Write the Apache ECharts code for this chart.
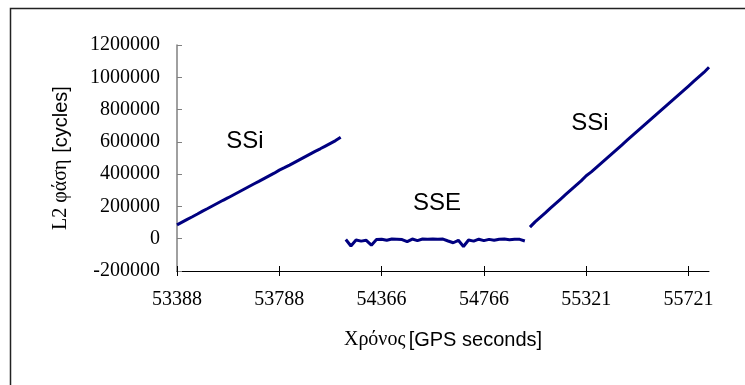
<!DOCTYPE html>
<html lang="el">
<head>
    <meta charset="UTF-8">
    <script src="https://cdn.jsdelivr.net/npm/echarts@6/dist/echarts.min.js"></script>
    <title>L2 φάση</title>
</head>
<body style="margin:0;background:#fff">
<div id="chart" style="width:745px;height:385px"></div>
<script type="text/javascript">
    // χρόνοι GPS (κάθε 20 s) για τα τρία τμήματα
    var times1 = [53388, 53408, 53428, 53448, 53468, 53488, 53508, 53528, 53548, 53568,
        53588, 53608, 53628, 53648, 53668, 53688, 53708, 53728, 53748, 53768,
        53788, 53808, 53828, 53848, 53868, 53888, 53908, 53928, 53948, 53968,
        53988, 54008, 54028];
    var times2 = [54226, 54246, 54266, 54286, 54306, 54326, 54346, 54366, 54386, 54406,
        54426, 54446, 54466, 54486, 54506, 54526, 54546, 54566, 54586, 54606,
        54626, 54646, 54666, 54686, 54706, 54726, 54746, 54766, 54786, 54806,
        54826, 54846, 54866, 54886, 54906, 54926];
    var times3 = [55101, 55121, 55141, 55161, 55181, 55201, 55221, 55241, 55261, 55281,
        55301, 55321, 55341, 55361, 55381, 55401, 55421, 55441, 55461, 55481,
        55501, 55521, 55541, 55561, 55581, 55601, 55621, 55641, 55661, 55681,
        55701, 55721, 55741, 55761, 55781, 55801];

    // L2 φάση [cycles]
    var ssi1 = [86000, 103000, 120000, 136000, 153000, 171000, 187000, 204000, 221000, 238000,
        254000, 271000, 288000, 305000, 322000, 339000, 355000, 372000, 389000, 406000,
        425000, 440000, 456000, 473000, 490000, 507000, 524000, 541000, 557000, 574000,
        591000, 608000, 628000];
    var sse = [-5000, -45000, -8000, -15000, -10000, -40000, -5000, -3000, -10000, -2000,
        -3000, -5000, -18000, -2000, -12000, -2000, -3000, -2000, -4000, -2000,
        -14000, -25000, -10000, -48000, -8000, -15000, -3000, -12000, -4000, -10000,
        -3000, -2000, -6000, -3000, -4000, -14000];
    var ssi2 = [72000, 104000, 132000, 160000, 190000, 218000, 246000, 274000, 302000, 330000,
        358000, 390000, 414000, 442000, 470000, 498000, 526000, 554000, 582000, 610000,
        638000, 666000, 694000, 722000, 750000, 778000, 806000, 834000, 862000, 890000,
        918000, 946000, 974000, 1002000, 1030000, 1062000];

    var yMin = -200000, yMax = 1200000, yStep = 200000;
    var labelEvery = 20;

    var categories = times1.concat(times2, times3).map(String);

    function pairs(t, v) {
        return v.map(function (val, i) { return [String(t[i]), val]; });
    }

    var serif = 'Liberation Serif';
    var sans = 'Liberation Sans';

    var chart = echarts.init(document.getElementById('chart'));
    chart.setOption({
        animation: false,
        grid: {left: 177, top: 45, width: 532, height: 226},
        xAxis: [{
            type: 'category',
            data: categories,
            boundaryGap: false,
            position: 'bottom',
            axisLine: {onZero: false, lineStyle: {color: '#000', width: 1}},
            axisTick: {inside: true, length: 5, interval: labelEvery - 1, lineStyle: {color: '#000'}},
            axisLabel: {
                interval: labelEvery - 1, margin: 19,
                color: '#000', fontFamily: serif, fontSize: 20
            },
            splitLine: {show: false},
            name: '{a|Χρόνος} {b|[GPS seconds]}',
            nameLocation: 'middle',
            nameGap: 59,
            nameTextStyle: {
                rich: {
                    a: {fontFamily: serif, fontSize: 20, color: '#000'},
                    b: {fontFamily: sans, fontSize: 20, color: '#000'}
                }
            }
        }, {
            // κάτω μισό των διασταυρούμενων γραμμών υποδιαίρεσης
            type: 'category',
            data: categories,
            boundaryGap: false,
            position: 'bottom',
            axisLine: {show: false, onZero: false},
            axisTick: {inside: false, length: 5, interval: labelEvery - 1, lineStyle: {color: '#000'}},
            axisLabel: {show: false},
            splitLine: {show: false}
        }],
        yAxis: {
            type: 'value',
            min: yMin,
            max: yMax,
            interval: yStep,
            axisLine: {show: true, lineStyle: {color: '#808080', width: 1.5}},
            axisTick: {show: true, inside: true, length: 5, lineStyle: {color: '#808080'}},
            axisLabel: {
                margin: 17, color: '#000', fontFamily: serif, fontSize: 20,
                formatter: function (v) { return String(v); }
            },
            splitLine: {show: false},
            name: '{a|L2 φάση}  {b|[cycles]}',
            nameLocation: 'middle',
            nameRotate: 90,
            nameGap: 106,
            nameTextStyle: {
                rich: {
                    a: {fontFamily: serif, fontSize: 20, color: '#000'},
                    b: {fontFamily: sans, fontSize: 20, color: '#000'}
                }
            }
        },
        series: [
            {name: 'SSi', type: 'line', data: pairs(times1, ssi1), showSymbol: false,
                lineStyle: {color: '#000080', width: 3}},
            {name: 'SSE', type: 'line', data: pairs(times2, sse), showSymbol: false,
                lineStyle: {color: '#000080', width: 3}},
            {name: 'SSi', type: 'line', data: pairs(times3, ssi2), showSymbol: false,
                lineStyle: {color: '#000080', width: 3}}
        ],
        graphic: [
            {type: 'rect', shape: {x: 10.5, y: 8.5, width: 800, height: 420},
                style: {fill: 'none', stroke: '#222', lineWidth: 1.5}, silent: true},
            {type: 'text', x: 245, y: 141, style: {text: 'SSi', fontFamily: sans, fontSize: 24,
                fill: '#000', align: 'center', verticalAlign: 'middle'}},
            {type: 'text', x: 437, y: 203, style: {text: 'SSE', fontFamily: sans, fontSize: 24,
                fill: '#000', align: 'center', verticalAlign: 'middle'}},
            {type: 'text', x: 590, y: 123, style: {text: 'SSi', fontFamily: sans, fontSize: 24,
                fill: '#000', align: 'center', verticalAlign: 'middle'}}
        ]
    });
</script>
</body>
</html>
